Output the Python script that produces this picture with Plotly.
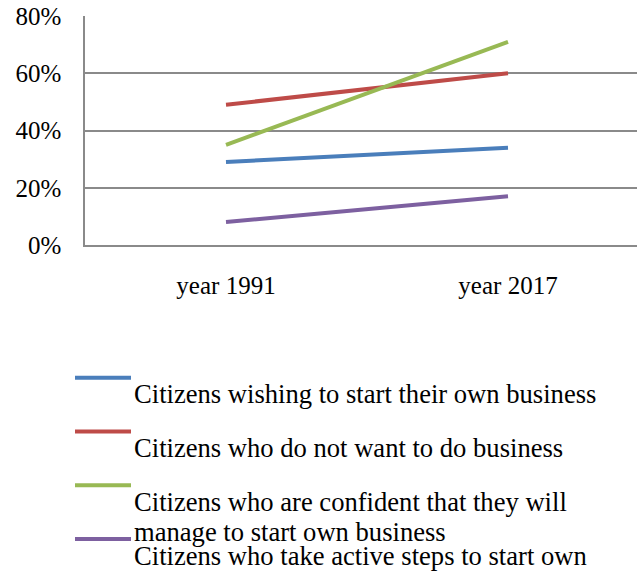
import plotly.graph_objects as go

categories = ["year 1991", "year 2017"]
series_names = [
    "Citizens wishing to start their own business",
    "Citizens who do not want to do business",
    "Citizens who are confident that they will<br>manage to start own business",
    "Citizens who take active steps to start own<br>business",
]
values_wishing = [29, 34]
values_not_want = [49, 60]
values_confident = [35, 71]
values_active = [8, 17]
colors = ["#4A7EBB", "#BE4B48", "#98B954", "#7D60A0"]

all_values = [values_wishing, values_not_want, values_confident, values_active]

FONT = "Liberation Serif, Times New Roman, serif"
W, H = 637, 571
L, T = 85, 16
PLOT_W = W - L
PLOT_BOTTOM = 245
PLOT_H = PLOT_BOTTOM - T

fig = go.Figure()
for name, vals, col in zip(series_names, all_values, colors):
    fig.add_trace(go.Scatter(
        x=[0, 1], y=vals, mode="lines", name=name.replace("<br>", " "),
        line=dict(color=col, width=4), showlegend=False,
    ))

def px_x(p):
    return (p - L) / PLOT_W

def px_y(p):
    return (PLOT_BOTTOM - p) / PLOT_H

legend_line_y = [377.7, 431.5, 485.3, 539.1]
LEG_FONT = 26.6
shapes = []
annotations = []
for name, col, ly in zip(series_names, colors, legend_line_y):
    shapes.append(dict(type="line", xref="paper", yref="paper",
                       x0=px_x(75), x1=px_x(131), y0=px_y(ly), y1=px_y(ly),
                       line=dict(color=col, width=4)))
    for k, part in enumerate(name.split("<br>")):
        annotations.append(dict(xref="paper", yref="paper", x=px_x(131.5),
                                y=px_y(ly + 16.5 + 30 * k),
                                xanchor="left", yanchor="middle", align="left",
                                text=part, showarrow=False,
                                font=dict(family=FONT, size=LEG_FONT, color="#000000")))

fig.update_layout(
    width=W, height=H,
    margin=dict(l=L, r=0, t=T, b=H - PLOT_BOTTOM, pad=0),
    paper_bgcolor="white", plot_bgcolor="white",
    font=dict(family=FONT, size=25, color="#000000"),
    xaxis=dict(
        range=[-0.5, -0.5 + PLOT_W / 282.0],
        tickmode="array", tickvals=[0, 1], ticktext=categories,
        showgrid=False, zeroline=False, showline=True,
        linecolor="#8A8A8A", linewidth=1.5, ticks="",
        ticklabelstandoff=17, fixedrange=True,
    ),
    yaxis=dict(
        range=[0, 80], dtick=20, ticksuffix="%",
        showgrid=True, gridcolor="#8A8A8A", gridwidth=1.5,
        zeroline=False, showline=True, linecolor="#8A8A8A", linewidth=1.5,
        ticks="", ticklabelstandoff=17, fixedrange=True,
    ),
    shapes=shapes,
    annotations=annotations,
    showlegend=False,
)

fig.write_html("out.html")
